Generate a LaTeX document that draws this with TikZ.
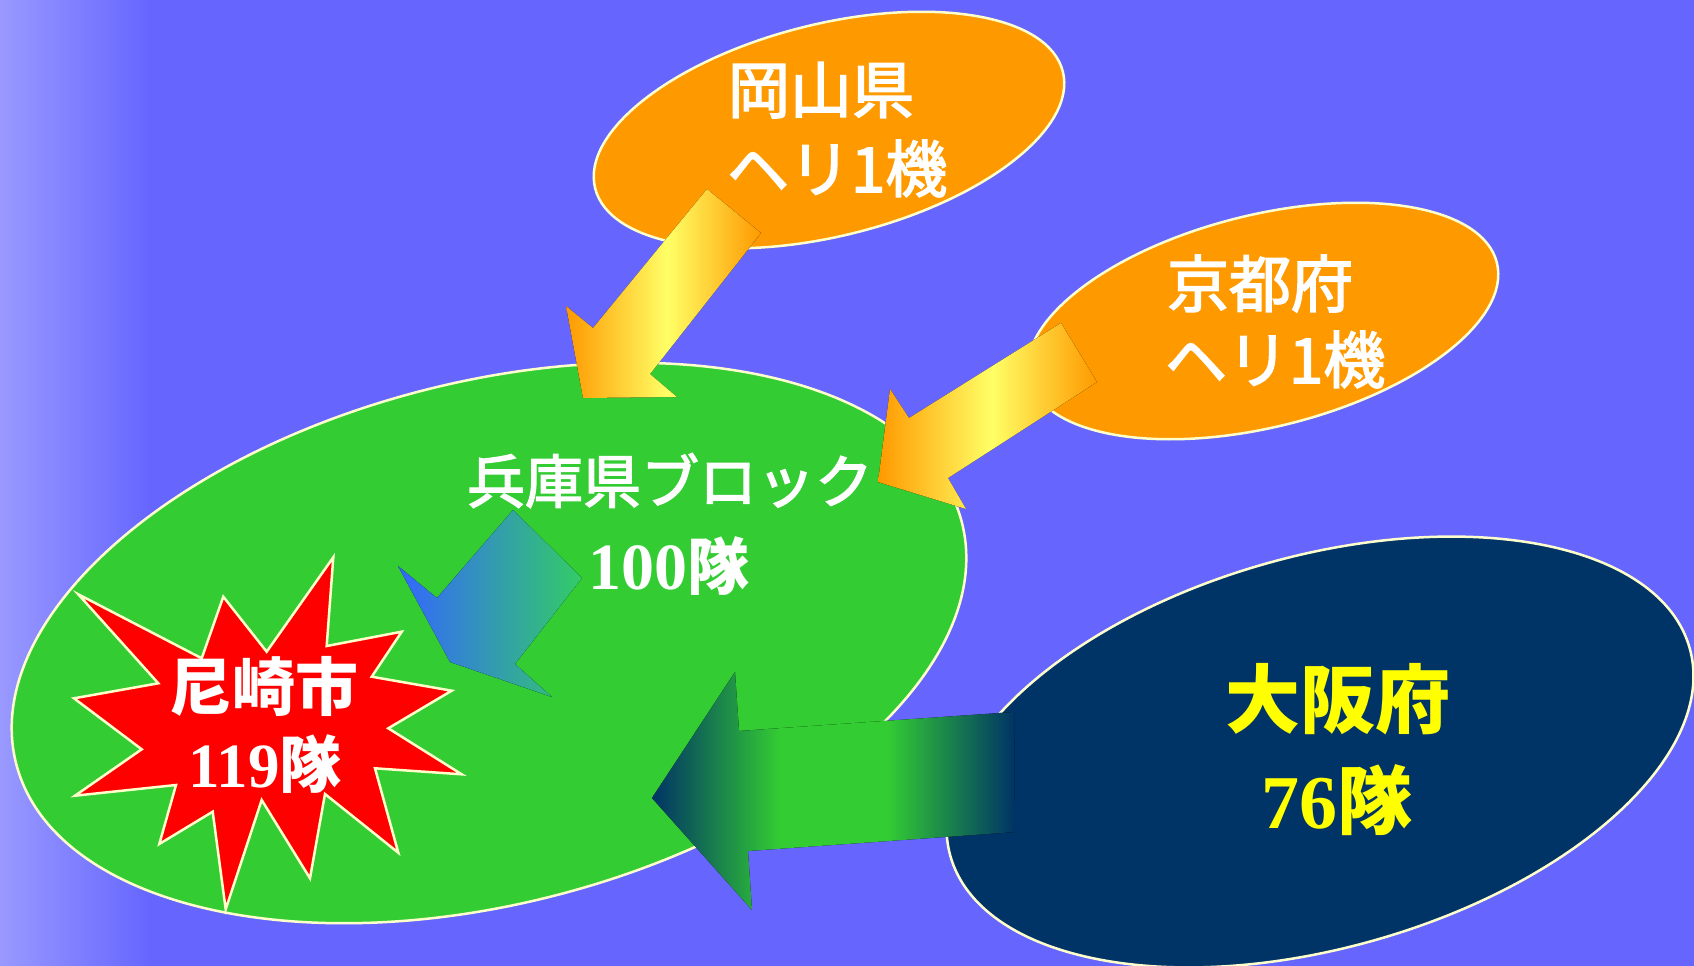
\documentclass[tikz,border=0pt]{standalone}
\usepackage{fontspec}
\usetikzlibrary{shapes.geometric}
\newfontfamily\jp{Noto Sans CJK JP}
\newfontfamily\jpm{Noto Sans CJK JP}[FakeBold=2.5]
\newfontfamily\tnr{Liberation Serif}
\definecolor{bg}{HTML}{6666FF}
\definecolor{bgleft}{HTML}{9999FF}
\definecolor{orng}{HTML}{FF9900}
\definecolor{grn}{HTML}{33CC33}
\definecolor{navy}{HTML}{003366}
\definecolor{outl}{HTML}{FFFFCC}
\definecolor{starred}{HTML}{FF0000}
\definecolor{ylw}{HTML}{FFFF00}
\definecolor{lyellow}{HTML}{FFFF66}
\definecolor{arrblue}{HTML}{3366FF}
\definecolor{arrteal}{HTML}{33CC66}
\pgfdeclarehorizontalshading{navygreen}{100bp}{color(0bp)=(navy); color(25bp)=(navy); color(42.6bp)=(grn); color(57.4bp)=(grn); color(75bp)=(navy); color(100bp)=(navy)}
\pgfdeclarehorizontalshading{orangeyellow}{100bp}{color(0bp)=(orng); color(25bp)=(orng); color(51bp)=(lyellow); color(75bp)=(orng); color(100bp)=(orng)}
\begin{document}
\begin{tikzpicture}[x=1pt,y=-1pt,
  region/.style={shape=ellipse, draw=outl, line width=2.5pt, inner sep=0pt, rotate=14},
  label/.style={inner sep=0pt, outer sep=0pt},
  thin62/.style={label, text=white, font=\jpm\fontsize{62}{62}\selectfont}]
\useasboundingbox (0,0) rectangle (1694,966);
\fill[bg] (0,0) rectangle (1694,966);
\fill[left color=bgleft, right color=bg] (0,0) rectangle (150,966);

% regions
\node[region, fill=orng, minimum width=482pt, minimum height=212pt] (okayama) at (829,130) {};
\node[region, fill=orng, minimum width=482pt, minimum height=212pt] (kyoto) at (1263,321) {};
\node[region, fill=grn, minimum width=976pt, minimum height=522pt, rotate=0.3] (hyogo) at (489,643) {};
\node[region, fill=navy, minimum width=768pt, minimum height=392pt, rotate=1.7] (osaka) at (1320,752) {};

% Amagasaki burst
\draw[fill=starred, draw=outl, line width=2.5pt, line join=miter]
  (78.3,594.3) -- (201.7,658.3) -- (223.3,596.7) -- (266.7,651.7) -- (333.3,557.3)
  -- (326.7,646) -- (401.7,631.7) -- (371.7,676.7) -- (451.7,690.7) -- (388.3,728.3)
  -- (461.7,774.3) -- (375,768.3) -- (398.3,852.7) -- (325,794) -- (310,878.3)
  -- (261.7,800) -- (225.7,909.3) -- (212.7,811.7) -- (159.3,844) -- (176,785)
  -- (75,795.7) -- (141.7,749.3) -- (74,698.3) -- (158.3,683.3) -- cycle;

% block arrows
\fill[shading=orangeyellow]
  (707,189) -- (761,233) -- (650,374) -- (677,397) -- (583,398) -- (566,306) -- (593,328) -- cycle;
\fill[shading=orangeyellow]
  (1061,323) -- (1097,382) -- (948,478) -- (966,509) -- (878,482) -- (890,389) -- (909,418) -- cycle;
\fill[left color=arrblue, right color=arrteal]
  (513,510) -- (582,578) -- (515,664) -- (552,697) -- (450,662) -- (398,566) -- (437,598) -- cycle;
\fill[shading=navygreen]
  (652,798) -- (735,672) -- (739,731) -- (1014,712) -- (1015,832) -- (748,851) -- (752,910) -- cycle;

% labels
\node[thin62, anchor=base west] (ok1) at (728,113) {岡山県};
\node[thin62, anchor=base west] (ok2) at (727,192) {ヘリ1機};
\node[thin62, anchor=base west] (ky1) at (1167,307) {京都府};
\node[thin62, anchor=base west] (ky2) at (1165,383) {ヘリ1機};
\node[label, text=white, font=\jpm\fontsize{58}{58}\selectfont, anchor=base] (hy1) at (670,503) {兵庫県ブロック};
\node[label, text=white, anchor=base] (hy2) at (669,589) {{\tnr\bfseries\fontsize{66}{66}\selectfont 100}{\jp\bfseries\fontsize{62}{62}\selectfont 隊}};
\node[label, text=white, font=\jp\bfseries\fontsize{63}{63}\selectfont, anchor=base] (am1) at (264,710) {尼崎市};
\node[label, text=white, anchor=base] (am2) at (265,787) {{\tnr\bfseries\fontsize{63}{63}\selectfont 119}{\jp\bfseries\fontsize{62}{62}\selectfont 隊}};
\node[label, text=ylw, font=\jp\bfseries\fontsize{75}{75}\selectfont, anchor=base] (os1) at (1338,727) {大阪府};
\node[label, text=ylw, anchor=base] (os2) at (1337,828) {{\tnr\bfseries\fontsize{76}{76}\selectfont 76}{\jp\bfseries\fontsize{75}{75}\selectfont 隊}};
\end{tikzpicture}
\end{document}
